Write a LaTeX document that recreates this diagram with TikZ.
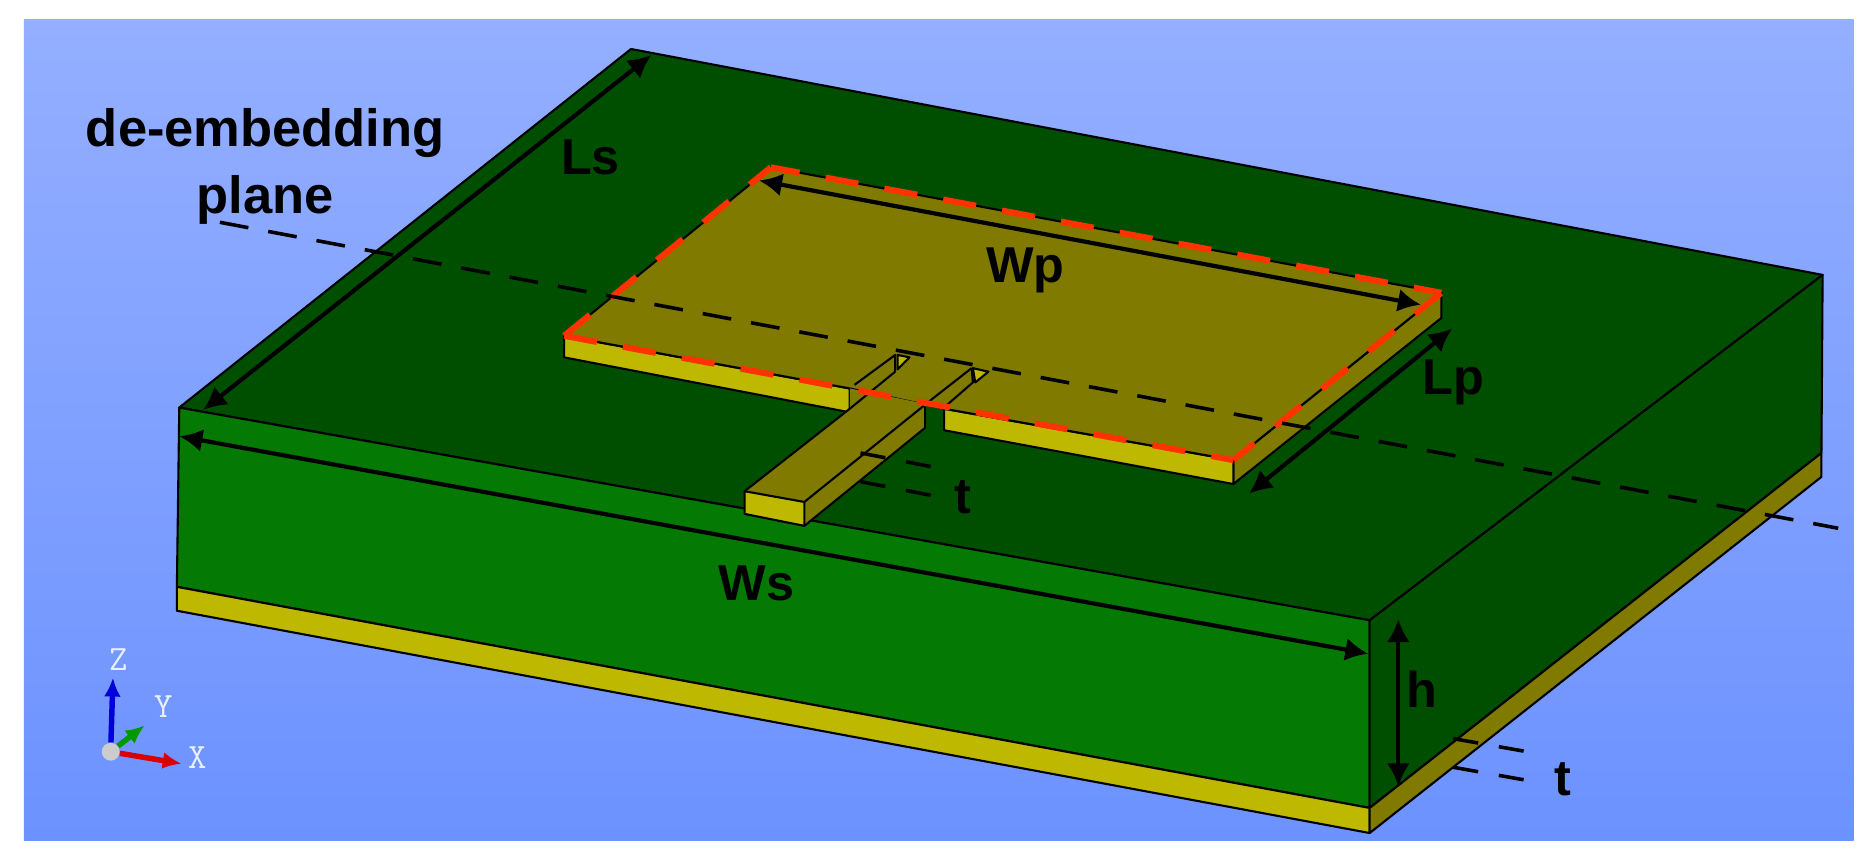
\documentclass[tikz,border=0pt]{standalone}
\usepackage{fontspec}
\setmainfont{Liberation Sans}
\usetikzlibrary{positioning,arrows.meta}
\definecolor{SkyTop}{RGB}{148,175,255}
\definecolor{SkyBottom}{RGB}{108,146,255}
\definecolor{SubFront}{RGB}{4,122,4}
\definecolor{SubDark}{RGB}{0,79,0}
\definecolor{MetalLight}{RGB}{190,185,0}
\definecolor{MetalDark}{RGB}{128,122,0}
\definecolor{PortRed}{RGB}{255,50,0}
\tikzset{>={Latex[length=11pt,width=11pt]}}
\tikzset{
    edge/.style={draw=black,line width=1pt,line join=round},
    dimline/.style={<->,line width=2pt},
    plainlabel/.style={font=\bfseries\fontsize{24}{28}\selectfont,inner sep=0pt},
    planeline/.style={line width=1.7pt,dash pattern=on 13.8pt off 9.6pt},
    tline/.style={line width=1.7pt,dash pattern=on 12pt off 10pt},
    portedge/.style={PortRed,line width=2.9pt,dash pattern=on 15.9pt off 12.6pt},
    axisarrow/.style={-{Latex[length=9pt,width=8pt]},line width=2.6pt},
    axislabel/.style={font=\ttfamily\fontsize{17}{17}\selectfont,text=white!85!SkyBottom,inner sep=0pt}
}
\begin{document}
\begin{tikzpicture}[x=0.02cm,y=-0.02cm]
        \useasboundingbox (0,0) rectangle (1568,723);
        \fill[white] (0,0) rectangle (1568,723);
        \shade[top color=SkyTop,bottom color=SkyBottom] (20,16) rectangle (1551,703);
        % substrate corners
        \coordinate (SB) at (528,41);
        \coordinate (SR) at (1525,230);
        \coordinate (SF) at (1146,519);
        \coordinate (SL) at (150,341);
        \coordinate (SLd) at (148,491);
        \coordinate (SFd) at (1146,676);
        \coordinate (SRd) at (1524,379);
        \coordinate (GLd) at (148,511);
        \coordinate (GFd) at (1146,697);
        \coordinate (GRd) at (1524,399);
        % patch corners
        \coordinate (PB) at (645,140);
        \coordinate (PR) at (1206,245);
        \coordinate (PF) at (1032,385);
        \coordinate (PL) at (472,281);
        \coordinate (PRd) at (1206,266);
        \coordinate (PFd) at (1032,405);
        \coordinate (PLd) at (472,299);
        % feed corners
        \coordinate (FA) at (623,411);
        \coordinate (FB) at (673,420);
        \coordinate (FAd) at (623,430);
        \coordinate (FBd) at (673,440);
        % substrate and ground
        \draw[edge,fill=SubDark] (SB) -- (SR) -- (SF) -- (SL) -- cycle;
        \draw[edge,fill=SubFront] (SL) -- (SF) -- (SFd) -- (SLd) -- cycle;
        \draw[edge,fill=SubDark] (SF) -- (SR) -- (SRd) -- (SFd) -- cycle;
        \draw[edge,fill=MetalLight] (SLd) -- (SFd) -- (GFd) -- (GLd) -- cycle;
        \draw[edge,fill=MetalDark] (SFd) -- (SRd) -- (GRd) -- (GFd) -- cycle;
        % patch
        \draw[edge,fill=MetalDark] (PF) -- (PR) -- (PRd) -- (PFd) -- cycle;
        \draw[edge,fill=MetalLight] (PL) -- (711,325) -- (711,345) -- (PLd) -- cycle;
        \draw[edge,fill=MetalLight] (790,342) -- (PF) -- (PFd) -- (790,360) -- cycle;
        \draw[edge,fill=MetalDark] (PL) -- (PB) -- (PR) -- (PF) -- (790,342) -- (711,325) -- cycle;
        % feed line
        \fill[MetalDark] (FA) -- (711,342) -- (711,325) -- (775,338) -- (774,358) -- (FBd) -- (FB) -- cycle;
        \draw[edge,fill=MetalLight] (FA) -- (FB) -- (FBd) -- (FAd) -- cycle;
        \draw[edge] (FA) -- (711,342) -- (749,311);
        \draw[edge] (FB) -- (781,333) -- (813,308);
        \draw[edge] (FBd) -- (774,358) -- (774,340);
        \draw[edge] (715,322) -- (749,297) -- (749,311);
        \draw[edge] (791,340) -- (814,320) -- (813,308);
        \draw[edge,fill=MetalLight] (751,297) -- (761,299) -- (751,309) -- cycle;
        \draw[edge,fill=MetalLight] (814,308) -- (827,311) -- (816,320) -- cycle;
        % port outline
        \draw[portedge] (PL) -- (PB);
        \draw[portedge,dash phase=2pt] (PB) -- (PR);
        \draw[portedge,dash phase=3pt] (PF) -- (PR);
        \draw[portedge] (PL) -- (PF);
        % de-embedding plane
        \coordinate (DS) at (184,186);
        \coordinate (DE) at (1538,442);
        \draw[planeline] (DS) -- (DE);
        % thickness marks
        \coordinate (TA) at (720,379);
        \coordinate (TB) at (782,391);
        \coordinate (TC) at (720,403);
        \coordinate (TD) at (782,415);
        \coordinate (TE) at (1216,618);
        \coordinate (TF) at (1278,629);
        \coordinate (TG) at (1216,642);
        \coordinate (TH) at (1278,653);
        \draw[tline] (TA) -- (TB);
        \draw[tline] (TC) -- (TD);
        \draw[tline] (TE) -- (TF);
        \draw[tline] (TG) -- (TH);
        % dimensions
        \coordinate (LsA) at (170,343);
        \coordinate (LsB) at (545,46);
        \coordinate (WpA) at (635,151);
        \coordinate (WpB) at (1189,255);
        \coordinate (LpA) at (1045,413);
        \coordinate (LpB) at (1215,275);
        \coordinate (WsA) at (150,365);
        \coordinate (WsB) at (1145,547);
        \coordinate (hA) at (1170,518);
        \coordinate (hB) at (1170,658);
        \draw[dimline] (LsA) -- (LsB);
        \draw[dimline] (WpA) -- (WpB);
        \draw[dimline] (LpA) -- (LpB);
        \draw[dimline] (WsA) -- (WsB);
        \draw[dimline] (hA) -- (hB);
        % labels
        \node[plainlabel,align=center,font=\bfseries\fontsize{25}{29}\selectfont] (deplane) at (222,139) {de-embedding\\[3pt]plane};
        \node[plainlabel] (Ls) at (494,132) {Ls};
        \node[plainlabel] (Wp) at (858,226) {Wp};
        \node[plainlabel] (Lp) at (1216,320) {Lp};
        \node[plainlabel] (Ws) at (633,488) {Ws};
        \node[plainlabel] (hlabel) at (1190,577) {h};
        \node[plainlabel] (tfeed) at (806,416) {t};
        \node[plainlabel] (tground) at (1308,652) {t};
        % axes
        \node[circle,fill=white!80!black,inner sep=3pt] (origin) at (92.6,629) {};
        \coordinate (Zend) at (94.5,567);
        \coordinate (Yend) at (121,607);
        \coordinate (Xend) at (152,639);
        \draw[axisarrow,green!60!black] (origin) -- (Yend);
        \draw[axisarrow,blue!85!black] (origin) -- (Zend);
        \draw[axisarrow,red!85!black] (origin) -- (Xend);
        \node[axislabel] (Zlabel) at (99,552) {Z};
        \node[axislabel] (Ylabel) at (136.6,591) {Y};
        \node[axislabel] (Xlabel) at (165,634) {X};
    \end{tikzpicture}
\end{document}
